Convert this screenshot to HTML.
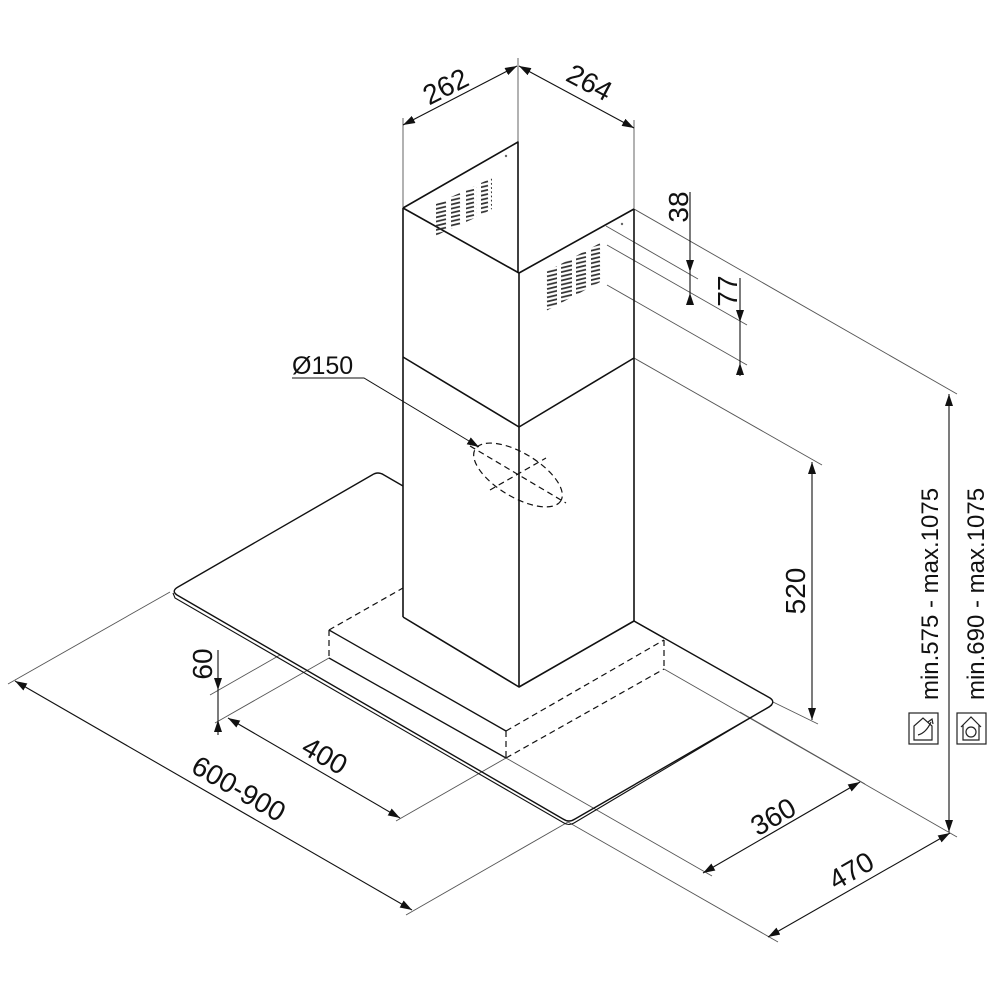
<!DOCTYPE html>
<html><head><meta charset="utf-8"><style>
html,body{margin:0;padding:0;background:#fff}
svg{display:block}
text{font-family:"Liberation Sans",sans-serif;fill:#111}
</style></head><body>
<svg width="1000" height="1000" viewBox="0 0 1000 1000" xmlns="http://www.w3.org/2000/svg">
<defs>
<marker id="a" viewBox="0 0 12 8" refX="12" refY="4" markerWidth="12" markerHeight="8" markerUnits="userSpaceOnUse" orient="auto-start-reverse">
<path d="M0,0 L12,4 L0,8 Z" fill="#111"/></marker>
<pattern id="slotL" width="14" height="4.2" patternUnits="userSpaceOnUse">
<line x1="1" y1="3.4" x2="12" y2="0.8" stroke="#333" stroke-width="1.8"/></pattern>
</defs>

<g stroke="#555" stroke-width="0.9" fill="none">
<line x1="403" y1="208" x2="403" y2="118"/>
<line x1="518" y1="142" x2="518" y2="58"/>
<line x1="634" y1="209" x2="634" y2="120"/>
<line x1="634" y1="209" x2="957" y2="394"/>
<line x1="606" y1="226" x2="698" y2="279"/>
<line x1="607" y1="245" x2="747" y2="325"/>
<line x1="607" y1="285" x2="747" y2="365"/>
<line x1="634" y1="358" x2="822" y2="465"/>
<line x1="773" y1="702" x2="818" y2="724"/>
<line x1="664" y1="669" x2="957" y2="837"/>
<line x1="740" y1="712" x2="865" y2="784"/>
<line x1="506" y1="758" x2="712" y2="876"/>
<line x1="568" y1="822" x2="778" y2="942"/>
<line x1="506" y1="758" x2="396" y2="821"/>
<line x1="568" y1="822" x2="406" y2="915"/>
<line x1="329" y1="658" x2="215" y2="723"/>
<line x1="280" y1="655" x2="210" y2="695"/>
<line x1="170" y1="592" x2="8" y2="684"/>
</g>

<g stroke="#111" stroke-width="1.4" fill="none">
<path d="M403,486 L384,475 Q378,471 372,475 L178,587 Q171,591 177,595 L563,819 Q569,823 575,819 L769,707 Q776,702 770,698 L634,621"/>
<path d="M173,593 L175,598 L564,823 Q569,826 574,823 L772,705" stroke-width="1.1"/>
</g>

<g stroke="#111" stroke-width="1.3" fill="none">
<line x1="329" y1="630" x2="506" y2="731"/>
<line x1="329" y1="658" x2="506" y2="758"/>
<line x1="634" y1="621" x2="664" y2="638"/>
</g>
<g stroke="#111" stroke-width="1.2" fill="none" stroke-dasharray="6,4">
<line x1="329" y1="630" x2="403" y2="588"/>
<line x1="329" y1="630" x2="329" y2="658"/>
<line x1="506" y1="731" x2="506" y2="758"/>
<line x1="506" y1="731" x2="664" y2="640"/>
<line x1="506" y1="758" x2="664" y2="669"/>
<line x1="664" y1="640" x2="664" y2="669"/>
</g>

<g stroke="#111" stroke-width="1.6" fill="none" stroke-linejoin="round">
<path d="M403,208 L518,142 L518,273"/>
<path d="M403,208 L519,273 L634,209"/>
<line x1="403" y1="208" x2="403" y2="617"/>
<line x1="519" y1="273" x2="519" y2="687"/>
<line x1="634" y1="209" x2="634" y2="621"/>
<path d="M403,357 L519,427 L634,358"/>
<path d="M403,617 L519,687 L634,621"/>
</g>
<circle cx="506" cy="156" r="1.2" fill="#666"/>
<circle cx="622" cy="224" r="1.2" fill="#666"/>

<g fill="url(#slotL)">
<polygon points="436,204 447,199 447,230 436,236"/>
<polygon points="451,197 462,192 462,224 451,229"/>
<polygon points="466,190 477,185 477,217 466,222"/>
<polygon points="481,183 492,178 492,209 481,215"/>
</g>
<g fill="url(#slotL)">
<polygon points="546,272 557,266 557,305 546,311"/>
<polygon points="561,264 572,258 572,297 561,303"/>
<polygon points="576,256 587,250 587,289 576,295"/>
<polygon points="591,248 602,242 602,281 591,287"/>
</g>

<g stroke="#111" stroke-width="1.2" fill="none" stroke-dasharray="6,4">
<ellipse cx="518" cy="475" rx="50" ry="22" transform="rotate(31 518 475)"/>
<line x1="470" y1="446" x2="566" y2="503"/>
<line x1="490" y1="490" x2="546" y2="458"/>
</g>
<polyline points="292,378 364,378 479,447" stroke="#111" stroke-width="1" fill="none" marker-end="url(#a)"/>
<text x="292" y="374" font-size="25">Ø150</text>

<g stroke="#111" stroke-width="1.1" fill="none">
<line x1="403" y1="125" x2="517" y2="66" marker-start="url(#a)" marker-end="url(#a)"/>
<line x1="519" y1="66" x2="634" y2="128" marker-start="url(#a)" marker-end="url(#a)"/>
<line x1="690" y1="192" x2="690" y2="272" marker-end="url(#a)"/>
<line x1="690" y1="305" x2="690" y2="293" marker-end="url(#a)"/>
<line x1="690" y1="272" x2="690" y2="293"/>
<line x1="740" y1="278" x2="740" y2="322" marker-end="url(#a)"/>
<line x1="740" y1="376" x2="740" y2="363" marker-end="url(#a)"/>
<line x1="740" y1="322" x2="740" y2="363"/>
<line x1="812" y1="462" x2="812" y2="720" marker-start="url(#a)" marker-end="url(#a)"/>
<line x1="949" y1="394" x2="949" y2="832" marker-start="url(#a)" marker-end="url(#a)"/>
<line x1="703" y1="873" x2="860" y2="782" marker-start="url(#a)" marker-end="url(#a)"/>
<line x1="768" y1="937" x2="950" y2="833" marker-start="url(#a)" marker-end="url(#a)"/>
<line x1="228" y1="718" x2="400" y2="818" marker-start="url(#a)" marker-end="url(#a)"/>
<line x1="15" y1="681" x2="412" y2="910" marker-start="url(#a)" marker-end="url(#a)"/>
<line x1="218" y1="650" x2="218" y2="690" marker-end="url(#a)"/>
<line x1="218" y1="735" x2="218" y2="720" marker-end="url(#a)"/>
<line x1="218" y1="690" x2="218" y2="720"/>
</g>

<g font-size="28" text-anchor="middle">
<text transform="translate(450,95) rotate(-27)">262</text>
<text transform="translate(585,91) rotate(28)">264</text>
<text transform="translate(688,207) rotate(-90)">38</text>
<text transform="translate(737,291) rotate(-90)">77</text>
<text transform="translate(805,591) rotate(-90)">520</text>
<text transform="translate(778,825) rotate(-30)">360</text>
<text transform="translate(856,879) rotate(-30)">470</text>
<text transform="translate(320,764) rotate(30)">400</text>
<text transform="translate(234,797) rotate(30)">600-900</text>
<text transform="translate(212,664) rotate(-90)">60</text>
<text transform="translate(938,594) rotate(-90)" font-size="24">min.575 - max.1075</text>
<text transform="translate(984,594) rotate(-90)" font-size="24">min.690 - max.1075</text>
</g>

<g stroke="#222" stroke-width="1.2" fill="none">
<rect x="909" y="713" width="29" height="31"/>
<path d="M914,740 V726 L923,718 L932,726 V740 Z"/>
<path d="M918,735 Q926,733 931,722" /><path d="M928,722 L932,719 L933,724"/>
<rect x="957" y="713" width="29" height="31"/>
<path d="M961,727 L971,717 L981,727 M963,725 V740 H979 V725"/>
<circle cx="971" cy="732" r="5"/>
</g>
</svg>
</body></html>
